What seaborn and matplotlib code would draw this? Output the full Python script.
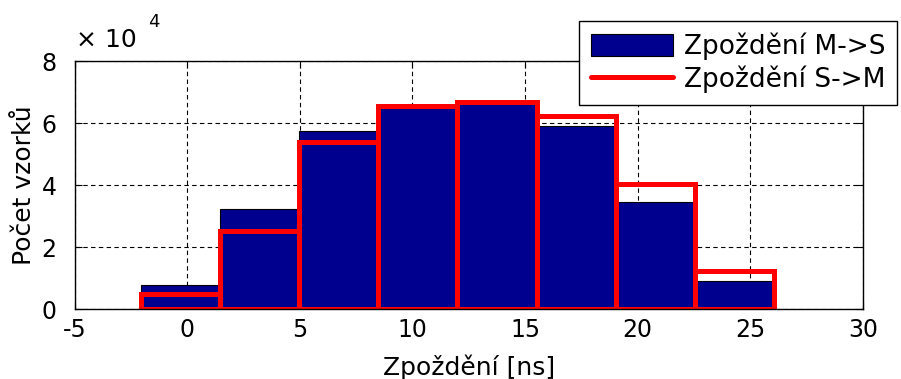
import matplotlib
matplotlib.use("Agg")
import matplotlib.pyplot as plt
import seaborn as sns
import numpy as np
from matplotlib.patches import Patch
from matplotlib.lines import Line2D
from matplotlib.ticker import FuncFormatter

# bin edges (ns)
bin_edges = [-2.07, 1.45, 4.97, 8.48, 11.99, 15.51, 19.03, 22.54, 26.07]
# counts (samples)
counts_ms = [7800, 32400, 57500, 64800, 66100, 59100, 34700, 9100]
counts_sm = [4800, 25400, 54000, 65600, 66900, 62500, 40400, 12300]
label_ms = "Zpoždění M->S"
label_sm = "Zpoždění S->M"
x_ticks = [-5, 0, 5, 10, 15, 20, 25, 30]
y_ticks = [0, 20000, 40000, 60000, 80000]

sns.set_style("white")
plt.rcParams["font.family"] = ["DejaVu Sans"]
plt.rcParams["text.color"] = "black"
plt.rcParams["axes.labelcolor"] = "black"

fig = plt.figure(figsize=(9.01, 3.79), dpi=100)
ax = fig.add_axes([0.0828, 0.1839, 0.9578 - 0.0828, 0.8383 - 0.1839])

centers = [(bin_edges[i] + bin_edges[i + 1]) / 2 for i in range(len(counts_ms))]

sns.histplot(x=centers, weights=counts_ms, bins=bin_edges, ax=ax,
             color="#00008F", edgecolor="black", linewidth=0.8, alpha=1,
             element="bars", fill=True)
sns.histplot(x=centers, weights=counts_sm, bins=bin_edges, ax=ax,
             fill=False, color="#FF0000", edgecolor="#FF0000", linewidth=3.6,
             element="bars")

ax.set_xlim(-5, 30)
ax.set_ylim(0, 80000)
ax.set_xticks(x_ticks)
ax.set_yticks(y_ticks)
ax.xaxis.set_major_formatter(FuncFormatter(lambda v, p: f"{v:g}"))
ax.yaxis.set_major_formatter(FuncFormatter(lambda v, p: f"{v/1e4:g}"))
ax.grid(True, color="black", linestyle=(0, (4, 3)), linewidth=0.8)
ax.set_axisbelow(True)
for s in ax.spines.values():
    s.set_visible(True)
    s.set_color("black")
    s.set_linewidth(1.0)
ax.tick_params(axis="both", direction="in", length=5, width=0.8, colors="black",
               labelsize=17, top=True, right=True, bottom=True, left=True)
ax.tick_params(axis="x", pad=6)
ax.tick_params(axis="y", pad=13)
ax.set_xlabel("Zpoždění [ns]", fontsize=18, labelpad=9, color="black")
ax.set_ylabel("Počet vzorků", fontsize=18, labelpad=4, color="black")

fig.text(76 / 901, 1 - 47 / 379, "× 10", fontsize=18, ha="left", va="baseline")
fig.text(148 / 901, 1 - 27 / 379, "4", fontsize=13, ha="left", va="baseline")

handles = [Patch(facecolor="#00008F", edgecolor="black", linewidth=0.8),
           Line2D([0], [0], color="#FF0000", linewidth=3.6)]
leg = fig.legend(handles, [label_ms, label_sm], loc="upper right",
                 bbox_to_anchor=(897 / 901, 1 - 20.7 / 379), fontsize=19,
                 frameon=True, fancybox=False, framealpha=1, edgecolor="black",
                 borderpad=0.45, labelspacing=0.2, handlelength=3.1,
                 handleheight=0.95, handletextpad=0.4, borderaxespad=0)
leg.get_frame().set_linewidth(1.0)

fig.savefig("out.png", dpi=100)
